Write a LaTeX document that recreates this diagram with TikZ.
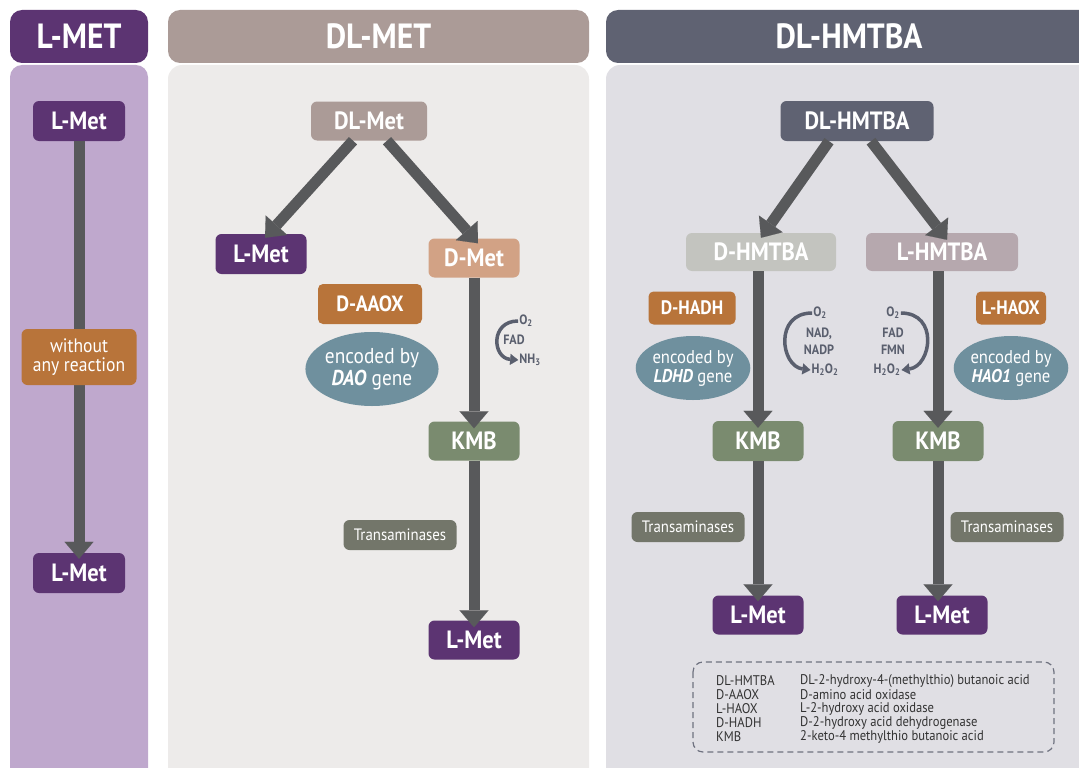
\documentclass[tikz,border=0pt]{standalone}
\usepackage{fontspec}
\setmainfont{PT Sans}[FakeStretch=0.9]
\usepackage{tikz}
\usetikzlibrary{arrows.meta,shapes.geometric}

\definecolor{metpurple}{HTML}{5C3472}
\definecolor{lilac}{HTML}{BFA8CD}
\definecolor{taupe}{HTML}{AB9B97}
\definecolor{paper}{HTML}{EDEBEA}
\definecolor{slate}{HTML}{5F6272}
\definecolor{slatebg}{HTML}{E0DFE4}
\definecolor{shaft}{HTML}{58595B}
\definecolor{peach}{HTML}{D2A285}
\definecolor{enzyme}{HTML}{B8743A}
\definecolor{genecol}{HTML}{6F909E}
\definecolor{kmbcol}{HTML}{7A8B6F}
\definecolor{transcol}{HTML}{73766A}
\definecolor{dhmcol}{HTML}{C3C4BF}
\definecolor{lhmcol}{HTML}{B6A8AE}
\definecolor{cofcol}{HTML}{5A5F6E}

\tikzset{
  head/.style={rounded corners=12pt, text=white, font=\fontsize{35}{37}\selectfont\bfseries, minimum height=53pt, inner sep=0pt},
  box/.style={rounded corners=6pt, text=white, font=\fontsize{25}{27}\selectfont\bfseries, minimum height=39pt, inner sep=0pt},
  enz/.style={rounded corners=5pt, fill=enzyme, text=white, font=\fontsize{22}{24}\selectfont\bfseries, inner sep=0pt},
  gene/.style={ellipse, fill=genecol, text=white, inner sep=0pt, align=center},
  trans/.style={rounded corners=6pt, fill=transcol, text=white, font=\fontsize{16.5}{18}\selectfont, minimum height=30pt, minimum width=113pt, inner sep=0pt},
  flow/.style={draw=shaft, line width=11pt, -{Triangle[width=29pt,length=17pt,line width=0.1pt]}},
  cof/.style={draw=cofcol, line width=3.5pt, -{Triangle[width=11pt,length=8pt,line width=0.1pt]}},
  coftxt/.style={text=cofcol, font=\fontsize{13.5}{14}\selectfont\bfseries, inner sep=1pt},
  legtxt/.style={anchor=west, text=black!80, font=\fontsize{14}{15}\selectfont, inner sep=0pt}
}

\begin{document}
\begin{tikzpicture}[x=1pt,y=-1pt]
  \useasboundingbox (0,0) rectangle (1079,768);
  \clip (0,0) rectangle (1079,768);

  % panels
  \fill[lilac, rounded corners=12pt] (10,65) rectangle (148,800);
  \fill[paper, rounded corners=14pt] (168,65) rectangle (589,800);
  \fill[slatebg, rounded corners=14pt] (606,65) rectangle (1110,800);
  \node[head, fill=metpurple, minimum width=138pt] (hLMET) at (79,36.5) {L-MET};
  \node[head, fill=taupe, minimum width=421pt] (hDLMET) at (378.5,36.5) {DL-MET};
  \node[head, fill=slate, minimum width=520pt] (hHMTBA) at (866,36.5) {};
  \node[text=white, font=\fontsize{35}{37}\selectfont\bfseries] (tHMTBA) at (849,36.5) {DL-HMTBA};

  % L-MET
  \node[box, fill=metpurple, minimum width=92pt, minimum height=40pt] (lmetA) at (79,121) {L-Met};
  \node[box, fill=metpurple, minimum width=92pt, minimum height=40pt] (lmetB) at (79,573) {L-Met};
  \draw[flow] (lmetA.south) -- ([yshift=-6pt]lmetB.north);
  \node[rounded corners=6pt, fill=enzyme, text=white, align=center, font=\fontsize{19.5}{19.5}\selectfont,
        minimum width=115pt, minimum height=56pt, inner sep=0pt] (noreact) at (79,357) {without\\any reaction};

  % DL-MET
  \node[box, fill=taupe, minimum width=116pt] (dlmet) at (369,121) {DL-Met};
  \node[box, fill=metpurple, minimum width=91pt, minimum height=40pt] (lmetC) at (261,254) {L-Met};
  \node[box, fill=peach, minimum width=91pt] (dmet) at (474,258) {D-Met};
  \node[enz, minimum width=104pt, minimum height=40pt] (daaox) at (370,304) {D-AAOX};
  \node[gene, minimum width=133pt, minimum height=74pt, font=\fontsize{21.5}{22}\selectfont] (dao) at (372,369)
       {encoded by\\\textbf{\textit{DAO}} gene};
  \node[box, fill=kmbcol, minimum width=91pt] (kmbA) at (474,441) {KMB};
  \node[trans] (transA) at (400,535) {Transaminases};
  \node[box, fill=metpurple, minimum width=91pt] (lmetD) at (474,640) {L-Met};
  \draw[flow] ([xshift=-16pt]dlmet.south) -- ([xshift=4pt,yshift=-4pt]lmetC.north);
  \draw[flow] ([xshift=18pt]dlmet.south) -- ([xshift=4pt,yshift=-5pt]dmet.north);
  \draw[flow] (dmet.south) -- ([yshift=-7pt]kmbA.north);
  \draw[flow] (kmbA.south) -- ([yshift=-7pt]lmetD.north);
  % cofactors D-AAOX
  \node[coftxt] (o2a) at (526,321) {O\textsubscript{2}};
  \node[coftxt] (fada) at (514,340) {FAD};
  \node[coftxt] (nh3a) at (530,360) {NH\textsubscript{3}};
  \draw[cof] (o2a.west) .. controls +(-28,0) and +(-26,-2) .. (nh3a.west);

  % DL-HMTBA
  \node[box, fill=slate, minimum width=153pt, minimum height=40pt] (dlhm) at (857,121) {DL-HMTBA};
  \node[box, fill=dhmcol, minimum width=150pt, minimum height=38pt] (dhm) at (761,252) {D-HMTBA};
  \node[box, fill=lhmcol, minimum width=152pt, minimum height=38pt] (lhm) at (942,252) {L-HMTBA};
  \node[enz, minimum width=87pt, minimum height=33pt, font=\fontsize{19.5}{21}\selectfont\bfseries] (dhadh) at (692,308) {D-HADH};
  \node[gene, minimum width=106pt, minimum height=64pt, font=\fontsize{18.5}{19}\selectfont] (ldhd) at (693,368)
       {encoded by\\\textbf{\textit{LDHD}} gene};
  \node[enz, minimum width=70pt, minimum height=33pt, font=\fontsize{19.5}{21}\selectfont\bfseries] (lhaox) at (1011,308) {L-HAOX};
  \node[gene, minimum width=106pt, minimum height=64pt, font=\fontsize{18.5}{19}\selectfont] (hao) at (1011,368)
       {encoded by\\\textbf{\textit{HAO1}} gene};
  \node[box, fill=kmbcol, minimum width=91pt, minimum height=40pt] (kmbB) at (758,441) {KMB};
  \node[box, fill=kmbcol, minimum width=91pt, minimum height=40pt] (kmbC) at (938,441) {KMB};
  \node[trans] (transB) at (688,527) {Transaminases};
  \node[trans] (transC) at (1007,527) {Transaminases};
  \node[box, fill=metpurple, minimum width=91pt] (lmetE) at (758,615) {L-Met};
  \node[box, fill=metpurple, minimum width=91pt] (lmetF) at (942,615) {L-Met};
  \draw[flow] ([xshift=-28pt]dlhm.south) -- ([yshift=-5pt]dhm.north);
  \draw[flow] ([xshift=14pt]dlhm.south) -- ([xshift=5pt,yshift=-7pt]lhm.north);
  \draw[flow] (kmbB |- dhm.south) -- ([yshift=-7pt]kmbB.north);
  \draw[flow] (kmbC |- lhm.south) -- ([yshift=-7pt]kmbC.north);
  \draw[flow] (kmbB.south) -- ([yshift=-6pt]lmetE.north);
  \draw[flow] (kmbC.south) -- ([yshift=-6pt]kmbC |- lmetF.north);
  % cofactors D-HADH / L-HAOX
  \node[coftxt] (o2b) at (820,313) {O\textsubscript{2}};
  \node[coftxt, align=center, font=\fontsize{13.5}{17}\selectfont\bfseries] (nadb) at (819,341) {NAD,\\NADP};
  \node[coftxt] (h2o2b) at (825,370) {H\textsubscript{2}O\textsubscript{2}};
  \draw[cof] (o2b.west) .. controls +(-38,0) and +(-30,-4) .. (h2o2b.west);
  \node[coftxt] (o2c) at (893,313) {O\textsubscript{2}};
  \node[coftxt, align=center, font=\fontsize{13.5}{17}\selectfont\bfseries] (fadc) at (893,341) {FAD\\FMN};
  \node[coftxt] (h2o2c) at (887,370) {H\textsubscript{2}O\textsubscript{2}};
  \draw[cof] (o2c.east) .. controls +(38,0) and +(30,-4) .. (h2o2c.east);

  % abbreviations
  \draw[draw=slate!90, line width=1.2pt, dash pattern=on 6pt off 4pt, rounded corners=10pt] (693,662) rectangle (1054,752);
  \node[legtxt] (ab1) at (716,681) {DL-HMTBA};
  \node[legtxt] (ab2) at (716,695) {D-AAOX};
  \node[legtxt] (ab3) at (716,709) {L-HAOX};
  \node[legtxt] (ab4) at (716,723) {D-HADH};
  \node[legtxt] (ab5) at (716,737) {KMB};
  \node[legtxt] (df1) at (800,681) {DL-2-hydroxy-4-(methylthio) butanoic acid};
  \node[legtxt] (df2) at (800,695) {D-amino acid oxidase};
  \node[legtxt] (df3) at (800,709) {L-2-hydroxy acid oxidase};
  \node[legtxt] (df4) at (800,723) {D-2-hydroxy acid dehydrogenase};
  \node[legtxt] (df5) at (800,737) {2-keto-4 methylthio butanoic acid};
\end{tikzpicture}
\end{document}
